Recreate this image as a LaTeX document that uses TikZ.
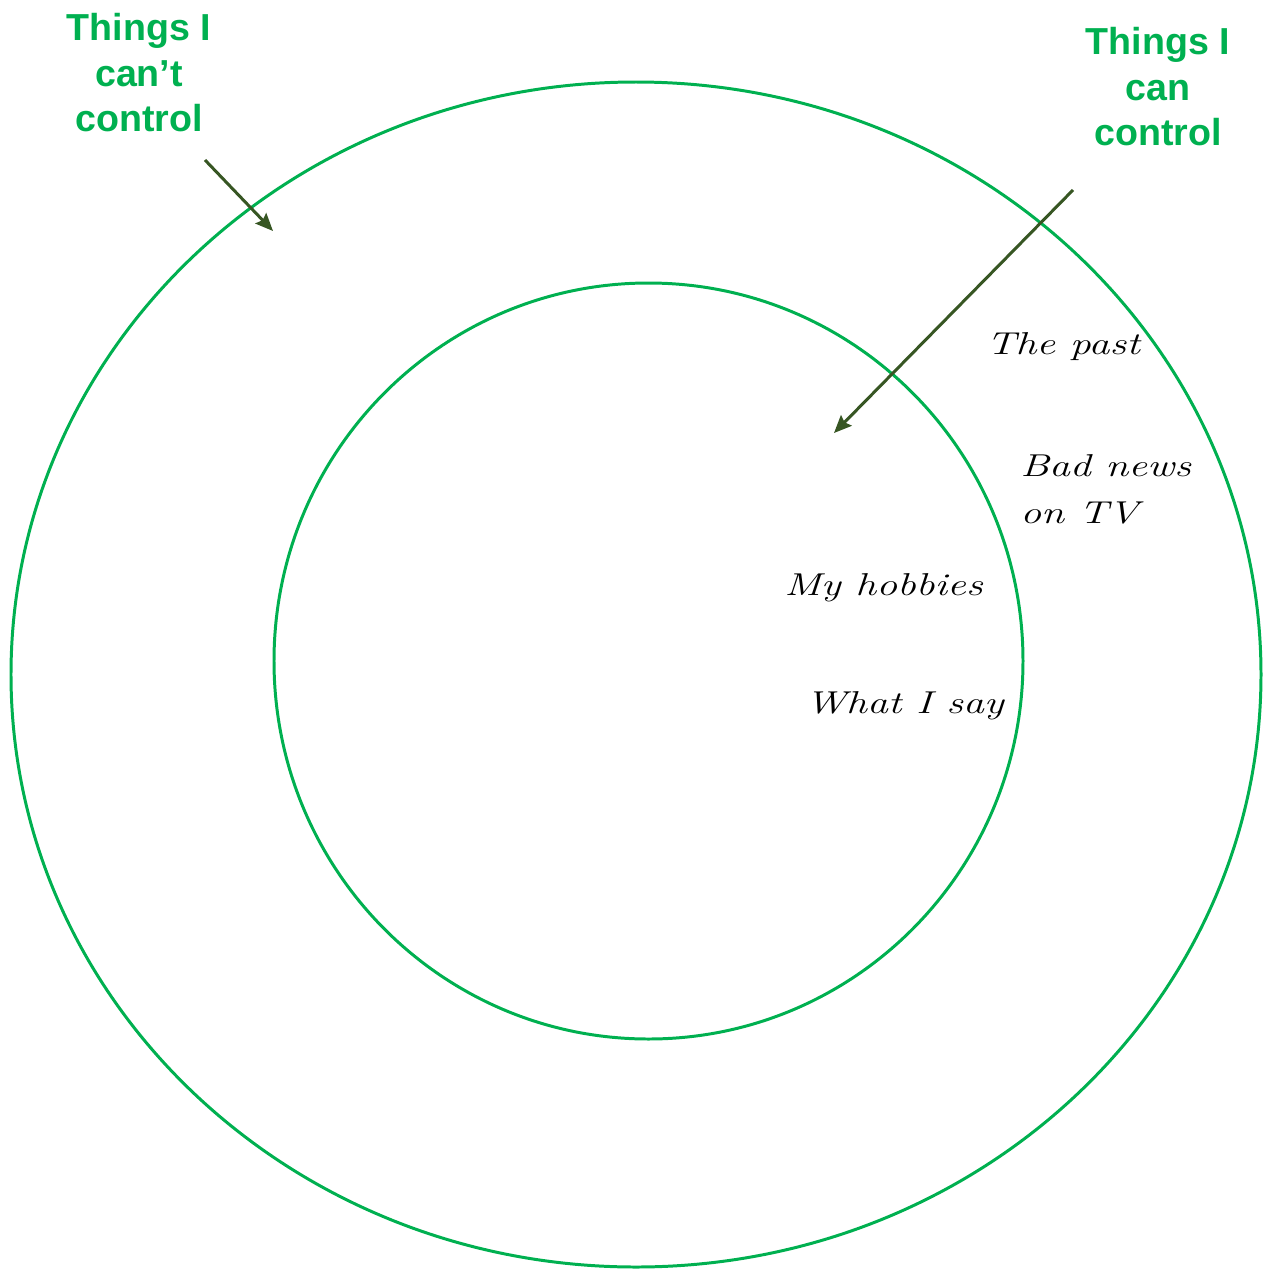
\documentclass[tikz,border=0pt]{standalone}
\usepackage{fontspec}
\usepackage{tikz}
\usetikzlibrary{arrows.meta}
\usepackage{xcolor}
\newfontfamily\labelfont{Liberation Sans}
\definecolor{ringgreen}{HTML}{00B050}
\definecolor{arrowgreen}{HTML}{375623}
\newcommand{\handtext}[1]{\scalebox{1.32}[1]{#1}}

\begin{document}
\begin{tikzpicture}[x=0.02cm, y=-0.02cm, >={Stealth[length=10pt,width=8.5pt,inset=1.5pt]}, every node/.style={inner sep=0pt}]
\useasboundingbox (0,0) rectangle (1272,1275);

% Circles
\draw[ringgreen,line width=1.7pt] (636,674.5) ellipse [x radius=625, y radius=592.5];
\draw[ringgreen,line width=1.7pt] (648.5,661) ellipse [x radius=374.5, y radius=378];

% Headings
\tikzset{heading/.style={font=\labelfont\bfseries\fontsize{21.4}{26}\selectfont,text=ringgreen,align=center,anchor=north}}
\node[heading] at (139,13) (cant) {Things I\\can’t\\control};
\node[heading] at (1158,27) (can) {Things I\\can\\control};

% Arrows
\coordinate (cantA) at (205,160);
\coordinate (cantB) at (273,231);
\coordinate (canA) at (1073,190);
\coordinate (canB) at (834,433);
\draw[->,arrowgreen,line width=1.7pt] (cantA) -- (cantB);
\draw[->,arrowgreen,line width=1.7pt] (canA) -- (canB);

% Items
\tikzset{item/.style={font=\fontsize{18}{26.6}\selectfont\itshape,anchor=base west}}
\node[item] at (986,354) (past) {\handtext{The past}};
\node[item] at (1020,476) (news) {\handtext{Bad news}};
\node[item] at (1020,523) (tv) {\handtext{on TV}};
\node[item] at (784,595) (hobbies) {\handtext{My hobbies}};
\node[item] at (805,713) (say) {\handtext{What I say}};
\end{tikzpicture}
\end{document}
